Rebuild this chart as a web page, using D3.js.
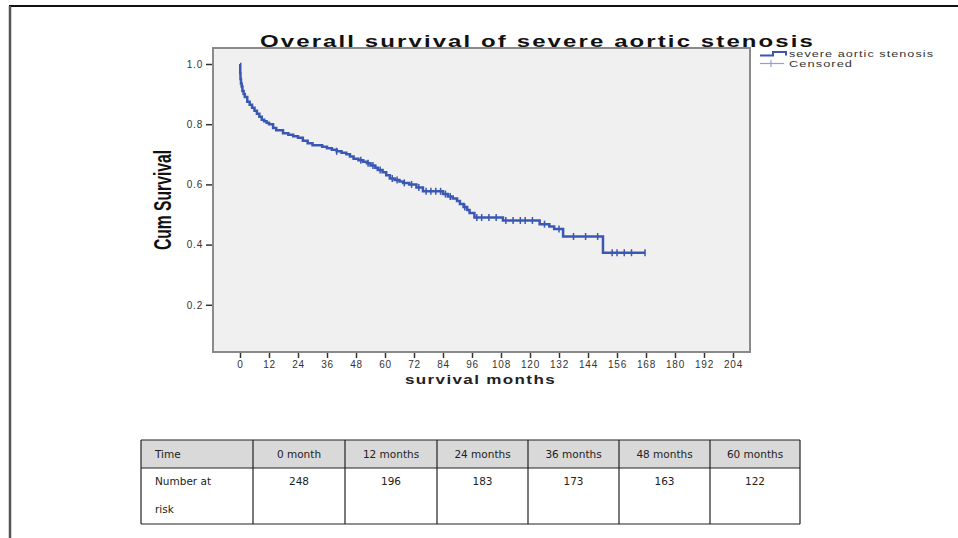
<!DOCTYPE html>
<html>
<head>
<meta charset="utf-8">
<script src="https://cdn.jsdelivr.net/npm/d3@7"></script>
<style>
  body { margin: 0; background: #fff; }
  svg { display: block; }
</style>
</head>
<body>
<svg id="chart" width="958" height="538"></svg>
<script>
// Kaplan-Meier steps (months, cumulative survival)
var stepTimes = [0, 0.1, 0.2, 0.4, 0.7, 1, 1.5, 2, 3, 4, 5, 6, 7, 8, 9, 10, 11, 12, 13.7, 15, 17.8, 20, 22, 24, 26, 28, 30, 34, 36, 38, 40, 42, 44, 45.5, 47, 49, 51, 52.5, 54, 56, 57, 59, 60.5, 62, 64, 66, 67.5, 70, 73, 75.7, 84, 86, 88, 89.8, 91, 92.5, 94, 95, 97, 108.8, 124, 128, 130, 133.7, 150.2];
var stepSurv = [1, 0.97, 0.95, 0.935, 0.925, 0.91, 0.9, 0.89, 0.875, 0.865, 0.855, 0.845, 0.835, 0.825, 0.815, 0.81, 0.805, 0.8, 0.787, 0.78, 0.77, 0.765, 0.76, 0.755, 0.745, 0.737, 0.73, 0.725, 0.72, 0.715, 0.71, 0.705, 0.7, 0.693, 0.685, 0.68, 0.675, 0.67, 0.663, 0.655, 0.648, 0.64, 0.63, 0.62, 0.615, 0.61, 0.605, 0.6, 0.59, 0.577, 0.568, 0.56, 0.553, 0.545, 0.535, 0.525, 0.515, 0.505, 0.49, 0.48, 0.468, 0.46, 0.452, 0.427, 0.373];
var lastTime = 167.6;
var censorTimes = [40, 50, 53, 55, 58, 63, 65, 68, 71, 74, 77, 79, 81, 83, 85, 87, 93, 98, 100, 103, 106, 110, 113, 116, 118, 121, 126, 132, 138, 143, 148, 154, 156, 159, 162, 167.6];

var xTicks = d3.range(0, 205, 12);
var yTicks = [0.2, 0.4, 0.6, 0.8, 1.0];

var tableHead = ['Time', '0 month', '12 months', '24 months', '36 months', '48 months', '60 months'];
var atRisk = [248, 196, 183, 173, 163, 122];

var svg = d3.select('#chart');
var blue = '#3b57b4';
var sans = 'Liberation Sans, Arial, sans-serif';

// page frame
svg.append('line').attr('x1', 9).attr('x2', 958).attr('y1', 6).attr('y2', 6)
    .attr('stroke', '#111').attr('stroke-width', 2);
svg.append('line').attr('x1', 10).attr('x2', 10).attr('y1', 6).attr('y2', 538)
    .attr('stroke', '#555').attr('stroke-width', 2.5);

var box = { left: 213, top: 48, right: 750, bottom: 352 };
var x = d3.scaleLinear().domain([0, 204]).range([240, 733]);
var y = d3.scaleLinear().domain([0, 1]).range([365, 64]);

svg.append('rect')
    .attr('x', box.left).attr('y', box.top)
    .attr('width', box.right - box.left).attr('height', box.bottom - box.top)
    .attr('fill', '#f0f0f0').attr('stroke', '#8a8a8a').attr('stroke-width', 2);

// axes
var xAxis = svg.append('g').attr('transform', 'translate(0,' + (box.bottom + 1) + ')')
    .call(d3.axisBottom(x).tickValues(xTicks).tickSize(5).tickPadding(3));
var yAxis = svg.append('g').attr('transform', 'translate(' + (box.left - 1) + ',0)')
    .call(d3.axisLeft(y).tickValues(yTicks).tickFormat(d3.format('.1f')).tickSize(6).tickPadding(3));
[xAxis, yAxis].forEach(function(a) {
    a.select('.domain').remove();
    a.selectAll('line').attr('stroke', '#333').attr('stroke-width', 1.5);
    a.selectAll('text').attr('fill', '#333')
        .style('font-family', sans)
        .style('font-size', '10px').style('letter-spacing', '0.8px');
});

// survival curve (step)
var pts = stepTimes.map(function(t, i) { return [t, stepSurv[i]]; });
pts.push([lastTime, stepSurv[stepSurv.length - 1]]);
var line = d3.line().x(d => x(d[0])).y(d => y(d[1])).curve(d3.curveStepAfter);
svg.append('path').datum(pts)
    .attr('d', line).attr('fill', 'none')
    .attr('stroke', blue).attr('stroke-width', 2.5);

function survAt(t) {
    var i = d3.bisectRight(stepTimes, t) - 1;
    return stepSurv[Math.max(i, 0)];
}
svg.append('g').selectAll('line').data(censorTimes).enter().append('line')
    .attr('x1', d => x(d)).attr('x2', d => x(d))
    .attr('y1', d => y(survAt(d)) - 3.5).attr('y2', d => y(survAt(d)) + 3.5)
    .attr('stroke', blue).attr('stroke-width', 1.5);

// titles (wide, stretched glyphs like the SPSS export)
svg.append('text').text('Overall survival of severe aortic stenosis')
    .attr('x', 260).attr('y', 47)
    .attr('textLength', 555).attr('lengthAdjust', 'spacingAndGlyphs')
    .style('letter-spacing', '1.5px')
    .style('font-family', sans)
    .style('font-weight', 'bold').style('font-size', '17px').attr('fill', '#111');

svg.append('text').text('survival months')
    .attr('x', 405).attr('y', 384)
    .attr('textLength', 151).attr('lengthAdjust', 'spacingAndGlyphs')
    .style('letter-spacing', '1px')
    .style('font-family', sans)
    .style('font-weight', 'bold').style('font-size', '12.5px').attr('fill', '#222');

svg.append('text').text('Cum Survival')
    .attr('transform', 'translate(171,250) rotate(-90)')
    .attr('textLength', 100).attr('lengthAdjust', 'spacingAndGlyphs')
    .style('font-family', sans)
    .style('font-weight', 'bold').style('font-size', '24px').attr('fill', '#111');

// legend
var lg = svg.append('g');
lg.append('path').attr('d', 'M760,55.5 H773 V52 H786 V55.5')
    .attr('fill', 'none').attr('stroke', blue).attr('stroke-width', 2);
lg.append('line').attr('x1', 760).attr('x2', 784).attr('y1', 63.5).attr('y2', 63.5)
    .attr('stroke', '#8ea0d8').attr('stroke-width', 1.2);
lg.append('line').attr('x1', 771).attr('x2', 771).attr('y1', 60).attr('y2', 67)
    .attr('stroke', '#8ea0d8').attr('stroke-width', 1.2);
lg.selectAll('text').data(['severe aortic stenosis', 'Censored']).enter().append('text')
    .text(d => d)
    .attr('x', 789).attr('y', (d, i) => 57 + i * 10)
    .attr('textLength', (d, i) => i ? 64 : 145).attr('lengthAdjust', 'spacingAndGlyphs')
    .style('letter-spacing', '0.8px')
    .style('font-family', sans)
    .style('font-size', '9.5px').attr('fill', '#333');

// number-at-risk table
var colEdges = [141, 253, 345, 437, 528, 619, 710, 800];
var rowEdges = [440, 468, 524];
var tbl = svg.append('g').style('font-family', 'DejaVu Sans, sans-serif').style('font-size', '10.5px');
tbl.append('rect').attr('x', colEdges[0]).attr('y', rowEdges[0])
    .attr('width', colEdges[7] - colEdges[0]).attr('height', rowEdges[1] - rowEdges[0])
    .attr('fill', '#d9d9d9');
tbl.selectAll('line.v').data(colEdges).enter().append('line')
    .attr('x1', d => d).attr('x2', d => d).attr('y1', rowEdges[0]).attr('y2', rowEdges[2])
    .attr('stroke', '#222').attr('stroke-width', 1.2);
tbl.selectAll('line.h').data(rowEdges).enter().append('line')
    .attr('x1', colEdges[0]).attr('x2', colEdges[7]).attr('y1', d => d).attr('y2', d => d)
    .attr('stroke', '#222').attr('stroke-width', 1.2);
tbl.selectAll('text.h').data(tableHead).enter().append('text')
    .text(d => d)
    .attr('x', (d, i) => i ? (colEdges[i] + colEdges[i + 1]) / 2 : colEdges[0] + 14)
    .attr('y', 458)
    .attr('text-anchor', (d, i) => i ? 'middle' : 'start')
    .attr('fill', '#222');
tbl.selectAll('text.n').data(atRisk).enter().append('text')
    .text(d => d)
    .attr('x', (d, i) => (colEdges[i + 1] + colEdges[i + 2]) / 2)
    .attr('y', 485).attr('text-anchor', 'middle').attr('fill', '#222');
tbl.append('text').text('Number at').attr('x', colEdges[0] + 14).attr('y', 485).attr('fill', '#222');
tbl.append('text').text('risk').attr('x', colEdges[0] + 14).attr('y', 513).attr('fill', '#222');
</script>
</body>
</html>
